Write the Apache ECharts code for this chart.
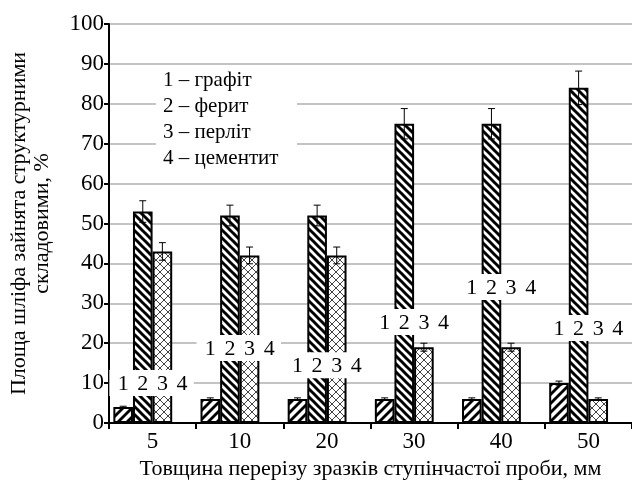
<!DOCTYPE html>
<html>
<head>
<meta charset="utf-8">
<script src="https://cdn.jsdelivr.net/npm/echarts@6/dist/echarts.min.js"></script>
<style>
html,body{margin:0;padding:0;background:#fff;}
#chart{width:632px;height:489px;}
</style>
</head>
<body>
<div id="chart"></div>
<script>
// ---- data ----
const categories = ['5', '10', '20', '30', '40', '50'];
const graphite = [4, 6, 6, 6, 6, 10];
const ferrite = [53, 52, 52, 75, 75, 84];
const pearlite = [43, 42, 42, 19, 19, 6];
const cementite = [0, 0, 0, 0, 0, 0];
const graphiteErr = [0.2, 0.3, 0.3, 0.3, 0.3, 0.5];
const ferriteErr = [2.7, 2.6, 2.6, 3.8, 3.8, 4.2];
const pearliteErr = [2.2, 2.1, 2.1, 1.0, 1.0, 0.3];
const groupLabelY = [10, 18.8, 14.5, 25.3, 34.1, 23.8];
const groupLabelTexts = ['1', '2', '3', '4'];
const legendLines = ['1 – графіт', '2 – ферит', '3 – перліт', '4 – цементит'];

const FONT = '"Liberation Serif", "Times New Roman", serif';

function stripes(dir, period, lw, color) {
  const c = document.createElement('canvas');
  c.width = period; c.height = period;
  const ctx = c.getContext('2d');
  ctx.fillStyle = '#fff'; ctx.fillRect(0, 0, period, period);
  ctx.strokeStyle = color; ctx.lineWidth = lw;
  for (let k = -1; k <= 1; k++) {
    ctx.beginPath();
    if (dir === 'back') { // "\"
      ctx.moveTo(k * period - 1, -1); ctx.lineTo(k * period + period + 1, period + 1);
    } else { // "/"
      ctx.moveTo(k * period - 1, period + 1); ctx.lineTo(k * period + period + 1, -1);
    }
    ctx.stroke();
  }
  return c;
}
function cross(period, lw, color) {
  const c = document.createElement('canvas');
  c.width = period; c.height = period;
  const ctx = c.getContext('2d');
  ctx.fillStyle = '#fff'; ctx.fillRect(0, 0, period, period);
  ctx.strokeStyle = color; ctx.lineWidth = lw;
  for (let k = -1; k <= 1; k++) {
    ctx.beginPath();
    ctx.moveTo(k * period, 0); ctx.lineTo(k * period + period, period);
    ctx.moveTo(k * period, period); ctx.lineTo(k * period + period, 0);
    ctx.stroke();
  }
  return c;
}

const patGraphite = {image: stripes('fwd', 9, 2.8, '#000'), repeat: 'repeat'};
const patFerrite = {image: stripes('back', 8, 3, '#000'), repeat: 'repeat'};
const patPearlite = {image: cross(8, 1, '#444'), repeat: 'repeat'};

const chart = echarts.init(document.getElementById('chart'), null, {renderer: 'canvas'});

function barW(api) {
  const band = api.size([1, 0])[0];
  return band * 0.9 / 4;
}
function errSeries(name, idx, vals, errs) {
  return {
    type: 'custom', name: name + '-err', z: 5,
    data: vals.map((v, i) => [i, v, errs[i]]),
    renderItem: function (params, api) {
      const i = api.value(0), v = api.value(1), e = api.value(2);
      const w = barW(api);
      const off = (idx - 1.5) * w;
      const p = api.coord([i, v]);
      const hi = api.coord([i, v + e]);
      const lo = api.coord([i, v - e]);
      const x = p[0] + off;
      const cap = 3.5;
      const st = {stroke: '#000', lineWidth: 1};
      return {type: 'group', children: [
        {type: 'line', shape: {x1: x, y1: lo[1], x2: x, y2: hi[1]}, style: st},
        {type: 'line', shape: {x1: x - cap, y1: hi[1], x2: x + cap, y2: hi[1]}, style: st},
        {type: 'line', shape: {x1: x - cap, y1: lo[1], x2: x + cap, y2: lo[1]}, style: st}
      ]};
    }
  };
}

const option = {
  backgroundColor: '#fff',
  animation: false,
  grid: {left: 107, top: 24, width: 532, bottom: 66, containLabel: false},
  xAxis: {
    type: 'category', data: categories,
    name: 'Товщина перерізу зразків ступінчастої проби, мм',
    nameLocation: 'middle', nameGap: 34,
    nameTextStyle: {fontFamily: FONT, fontSize: 22, color: '#000'},
    axisLine: {lineStyle: {color: '#000', width: 2}},
    axisTick: {show: true, length: 6, lineStyle: {color: '#000', width: 2}},
    axisLabel: {fontFamily: FONT, fontSize: 23, color: '#000', margin: 7},
    splitLine: {show: false}
  },
  yAxis: {
    type: 'value', min: 0, max: 100, interval: 10,
    name: 'Площа шліфа зайнята структурними\nскладовими, %',
    nameLocation: 'middle', nameRotate: 90, nameGap: 55,
    nameTextStyle: {fontFamily: FONT, fontSize: 22, color: '#000', lineHeight: 23},
    axisLine: {show: true, lineStyle: {color: '#000', width: 2}},
    axisTick: {show: true, inside: false, length: 5, lineStyle: {color: '#000', width: 2}},
    axisLabel: {fontFamily: FONT, fontSize: 23, color: '#000', margin: 5},
    splitLine: {show: true, lineStyle: {color: '#b0b0b0', width: 1.5}}
  },
  series: [
    {type: 'bar', name: 'графіт', data: graphite, barGap: '0%', barCategoryGap: '10%',
      itemStyle: {color: patGraphite, borderColor: '#000', borderWidth: 2}, z: 2},
    {type: 'bar', name: 'ферит', data: ferrite, barGap: '0%', barCategoryGap: '10%',
      itemStyle: {color: patFerrite, borderColor: '#000', borderWidth: 2}, z: 2},
    {type: 'bar', name: 'перліт', data: pearlite, barGap: '0%', barCategoryGap: '10%',
      itemStyle: {color: patPearlite, borderColor: '#000', borderWidth: 2}, z: 2},
    {type: 'bar', name: 'цементит', data: cementite, barGap: '0%', barCategoryGap: '10%',
      itemStyle: {color: '#fff', borderColor: '#000', borderWidth: 0}, z: 2},
    errSeries('графіт', 0, graphite, graphiteErr),
    errSeries('ферит', 1, ferrite, ferriteErr),
    errSeries('перліт', 2, pearlite, pearliteErr),
    {
      type: 'custom', name: 'labels', z: 10,
      data: groupLabelY.map((v, i) => [i, v]),
      renderItem: function (params, api) {
        const i = api.value(0), v = api.value(1);
        const w = barW(api);
        const p = api.coord([i, v]);
        const children = [{
          type: 'rect', shape: {x: p[0] - 2 * w - 4, y: p[1] - 13, width: 4 * w + 6, height: 26},
          style: {fill: '#fff'}
        }];
        groupLabelTexts.forEach((t, k) => {
          children.push({type: 'text', style: {
            text: t, x: p[0] + (k - 1.5) * w, y: p[1] + 1,
            align: 'center', verticalAlign: 'middle',
            font: '22px ' + FONT, fill: '#000'
          }});
        });
        return {type: 'group', children: children};
      }
    }
  ],
  graphic: [
    {type: 'rect', left: 156, top: 68, shape: {width: 141, height: 104}, style: {fill: '#fff'}, z: 20},
    ...legendLines.map((t, k) => ({
      type: 'text', left: 163, top: 70 + k * 26, z: 21,
      style: {text: t, font: '21px ' + FONT, fill: '#000'}
    }))
  ]
};
chart.setOption(option);
</script>
</body>
</html>
